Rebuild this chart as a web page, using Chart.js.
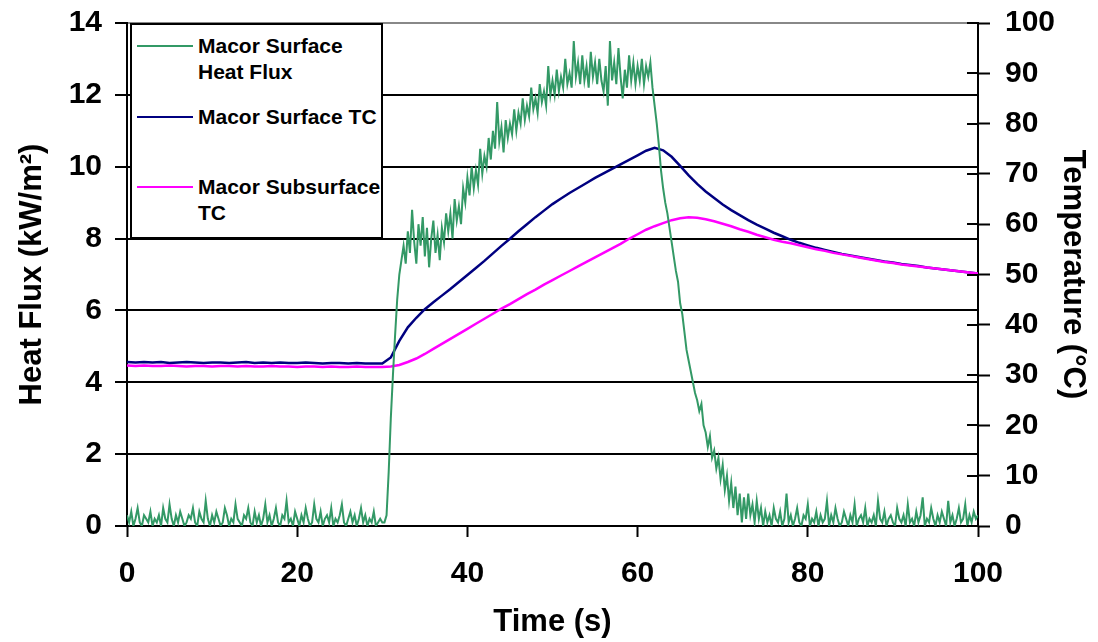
<!DOCTYPE html>
<html>
<head>
<meta charset="utf-8">
<script src="https://cdn.jsdelivr.net/npm/chart.js@4.4.1/dist/chart.umd.min.js"></script>
<style>
  body { margin: 0; background: #fff; }
  #wrap { position: relative; width: 1098px; height: 642px; }
  #legend {
    position: absolute; left: 130px; top: 23px; width: 249px; height: 212px;
    border: 2px solid #000; background: #fff;
    font: bold 21px 'Liberation Sans', Arial, sans-serif; color: #000;
  }
  .entry { position: absolute; left: 0; line-height: 26px; }
  .entry .swatch { position: absolute; left: 5px; top: 12px; width: 56px; height: 2px; }
  .entry .txt { position: absolute; left: 66px; top: 0; white-space: nowrap; }
</style>
</head>
<body>
<div id="wrap">
  <canvas id="chart" width="1098" height="642"></canvas>
  <div id="legend"></div>
</div>
<script>
// time axis ticks and sampling
var timeTicks = [0, 20, 40, 60, 80, 100];
var fluxStep = 0.25;  // s between heat flux samples
var tcStep = 1;       // s between thermocouple samples

// Macor surface heat flux, kW/m2, every 0.25 s from 0 to 100 s
var heatFlux = [
  // 0 .. 30
  0.3,0.1,0.4,0,0.2,0.5,0.1,0,0.3,0.2,
  0.1,0.4,0,0.2,0.1,0.3,0,0.5,0.2,0.1,
  0.6,0.2,0,0.3,0.1,0.4,0.2,0,0.1,0.3,
  0.2,0.5,0.1,0,0.4,0.2,0.1,0.7,0.2,0,
  0.3,0.1,0.4,0.2,0,0.1,0.5,0.3,0,0.2,
  0.1,0.6,0.2,0.1,0,0.3,0.2,0.5,0.1,0,
  0.4,0.1,0.3,0,0.2,0.6,0.1,0.3,0,0.2,
  0.5,0.1,0,0.3,0.2,0.7,0.1,0.2,0,0.4,
  0.2,0,0.3,0.1,0.5,0.2,0,0.1,0.6,0.2,
  0.1,0.4,0,0.2,0.3,0.1,0.5,0,0.2,0.1,
  0.3,0.6,0.1,0,0.2,0.4,0.1,0.3,0,0.2,
  0.5,0.1,0.3,0,0.2,0.1,0.4,0,0.1,0.2,
  0.1,
  // 30.25 .. 75
  0.1,0.3,1.5,3.0,4.2,5.3,6.3,7.0,7.4,7.8,
  7.3,8.2,7.6,8.8,7.9,7.3,8.4,7.8,8.6,7.5,
  8.3,7.2,8.0,8.5,7.6,8.1,7.4,8.3,7.9,8.7,
  8.2,8.7,8.0,9.1,8.5,8.9,8.4,9.4,9.0,9.7,
  9.2,10.0,9.4,9.9,9.5,10.5,9.8,10.3,10.0,10.8,
  10.2,11.0,10.5,11.8,10.7,11.1,10.4,11.3,10.8,11.2,
  10.9,11.6,11.0,11.5,11.2,11.9,11.3,11.7,11.4,12.2,
  11.6,11.9,11.5,12.3,11.8,12.1,11.7,12.8,12.0,12.4,
  12.0,12.7,12.1,12.5,12.2,13.0,12.3,12.6,12.2,13.5,
  12.5,12.9,12.3,13.1,12.4,12.8,12.2,13.2,12.5,12.9,
  12.3,13.0,12.4,12.1,12.8,11.7,13.5,12.4,12.9,12.3,
  13.3,12.5,11.9,12.7,12.2,13.1,12.4,12.9,12.3,12.8,
  12.4,13.0,12.3,12.8,12.5,12.9,12.2,11.7,11.2,10.6,
  9.9,9.4,9.0,8.7,8.3,7.9,7.5,7.1,6.8,6.2,
  5.9,5.4,4.9,4.6,4.3,4.0,3.7,3.5,3.2,3.4,
  2.8,2.6,2.2,2.5,1.9,2.1,1.6,1.9,1.3,1.7,
  1.0,1.4,0.7,1.2,0.5,1.1,0.3,0.9,0.1,0.8,
  0.2,0.9,0.3,0.6,0.1,0.7,0.2,0.5,0,0.4,
  // 75.25 .. 100
  0.1,0.3,0,0.5,0.2,0.1,0.4,0,0.2,0.9,
  0.1,0.3,0,0.2,0.5,0.1,0,0.3,0.2,0.6,
  0,0.2,0.1,0.4,0,0.3,0.1,0.2,0.7,0,
  0.3,0.1,0.5,0.2,0,0.1,0.4,0.2,0,0.3,
  0.1,0.6,0,0.2,0.3,0.1,0.5,0,0.2,0.1,
  0.3,0,0.7,0.2,0.1,0.4,0,0.2,0.3,0.1,
  0,0.5,0.2,0.1,0.3,0,0.6,0.1,0.2,0,
  0.4,0.1,0.3,0.8,0,0.2,0.1,0.5,0.2,0,
  0.3,0.1,0.4,0.2,0,0.7,0.1,0.3,0,0.2,
  0.5,0.1,0.2,0.6,0,0.3,0.1,0.4,0.2,0.3
];

// Macor surface thermocouple, deg C, every 1 s from 0 to 100 s
var surfaceTC = [
  32.6,32.5,32.6,32.5,32.6,32.4,32.5,32.6,32.5,32.4,
  32.5,32.5,32.4,32.5,32.6,32.4,32.5,32.4,32.5,32.4,
  32.4,32.5,32.4,32.3,32.4,32.4,32.3,32.4,32.3,32.3,
  32.3,33.5,36.8,39.5,41.4,43.1,44.5,45.8,47.1,48.5,
  49.9,51.3,52.7,54.2,55.7,57.1,58.6,60.0,61.4,62.7,
  64.0,65.1,66.2,67.2,68.2,69.2,70.1,71.0,71.9,72.8,
  73.7,74.6,75.2,74.7,73.4,71.6,69.7,68.0,66.5,65.2,
  63.9,62.8,61.8,60.8,59.9,59.1,58.3,57.6,56.9,56.3,
  55.8,55.3,54.9,54.5,54.1,53.8,53.5,53.2,52.9,52.6,
  52.4,52.1,51.9,51.7,51.4,51.2,51.0,50.8,50.6,50.4,
  50.2
];

// Macor subsurface thermocouple, deg C, every 1 s from 0 to 100 s
var subsurfaceTC = [
  31.9,31.8,31.9,31.8,31.8,31.9,31.8,31.7,31.8,31.8,
  31.7,31.8,31.8,31.7,31.8,31.7,31.7,31.8,31.7,31.7,
  31.6,31.7,31.7,31.6,31.7,31.6,31.6,31.7,31.6,31.6,
  31.6,31.7,32.0,32.6,33.3,34.2,35.2,36.2,37.2,38.2,
  39.2,40.2,41.2,42.2,43.2,44.1,45.1,46.1,47.0,48.0,
  48.9,49.8,50.7,51.6,52.5,53.4,54.3,55.2,56.1,57.1,
  58.0,58.9,59.6,60.2,60.8,61.2,61.4,61.3,61.0,60.6,
  60.1,59.6,59.0,58.5,57.9,57.4,56.9,56.5,56.2,55.8,
  55.4,55.0,54.7,54.3,54.0,53.7,53.4,53.1,52.8,52.5,
  52.3,52.0,51.8,51.6,51.4,51.2,51.0,50.8,50.6,50.4,
  50.2
];

var seriesLabels = [["Macor Surface", "Heat Flux"], ["Macor Surface TC"], ["Macor Subsurface", "TC"]];
var seriesColors = ["#339966", "#000080", "#FF00FF"];

function toPoints(values, step) {
  return values.map(function(v, i) { return { x: i * step, y: v }; });
}

var font = "'Liberation Sans', Arial, sans-serif";
Chart.defaults.font.family = font;
Chart.defaults.color = "#000";

// tick marks of the right axis cross into the plot area
var crossTicks = {
  id: "crossTicks",
  afterDraw: function(chart) {
    var ctx = chart.ctx;
    var s = chart.scales.y2;
    ctx.save();
    ctx.strokeStyle = "#000";
    ctx.lineWidth = 2;
    s.ticks.forEach(function(t) {
      var py = Math.round(s.getPixelForValue(t.value));
      ctx.beginPath();
      ctx.moveTo(s.left - 11, py);
      ctx.lineTo(s.left, py);
      ctx.stroke();
    });
    ctx.restore();
  }
};

// fixed axis boxes so the plot area sits where the original one does
function fitY(width) {
  return function(s) {
    s.width = width;
    s.paddingTop = 0;
    s.paddingBottom = 0;
  };
}

var chart = new Chart(document.getElementById("chart"), {
  type: "line",
  data: {
    datasets: [{
      label: seriesLabels[0].join(" "),
      data: toPoints(heatFlux, fluxStep),
      borderColor: seriesColors[0],
      borderWidth: 2,
      yAxisID: "y",
      order: 0
    }, {
      label: seriesLabels[1].join(" "),
      data: toPoints(surfaceTC, tcStep),
      borderColor: seriesColors[1],
      borderWidth: 2.5,
      yAxisID: "y2",
      order: 2
    }, {
      label: seriesLabels[2].join(" "),
      data: toPoints(subsurfaceTC, tcStep),
      borderColor: seriesColors[2],
      borderWidth: 2.5,
      yAxisID: "y2",
      order: 1
    }]
  },
  options: {
    responsive: false,
    animation: false,
    layout: { padding: { top: 23, left: 0, right: 0, bottom: 0 } },
    elements: { point: { radius: 0 }, line: { tension: 0 } },
    plugins: { legend: { display: false }, tooltip: { enabled: false } },
    scales: {
      x: {
        type: "linear",
        min: 0, max: 100,
        afterBuildTicks: function(s) { s.ticks = timeTicks.map(function(v) { return { value: v }; }); },
        afterFit: function(s) { s.height = 116; },
        grid: { drawOnChartArea: false, tickLength: 11, tickColor: "#000", tickWidth: 2 },
        border: { color: "#000", width: 2 },
        ticks: { font: { size: 30, weight: "bold" }, padding: 19, maxRotation: 0 },
        title: { display: true, text: "Time (s)", font: { size: 31, weight: "bold" }, padding: { top: 0, bottom: 1 } }
      },
      y: {
        position: "left",
        min: 0, max: 14,
        afterFit: fitY(127),
        grid: {
          color: function(c) { return c.tick && c.tick.value === 14 ? "#888" : "#000"; },
          lineWidth: 2, tickLength: 12, tickColor: "#000", tickWidth: 2
        },
        border: { color: "#000", width: 2 },
        ticks: { stepSize: 2, font: { size: 30, weight: "bold" }, padding: 13 },
        title: { display: true, text: "Heat Flux (kW/m²)", font: { size: 31, weight: "bold" }, padding: { top: 14, bottom: 0 } }
      },
      y2: {
        position: "right",
        min: 0, max: 100,
        afterFit: fitY(120),
        grid: { drawOnChartArea: false, tickLength: 12, tickColor: "#000", tickWidth: 2 },
        border: { color: "#000", width: 2 },
        ticks: { stepSize: 10, font: { size: 30, weight: "bold" }, padding: 15 },
        title: { display: true, text: "Temperature (°C)", font: { size: 31, weight: "bold" }, padding: { top: 7, bottom: 0 } }
      }
    }
  },
  plugins: [crossTicks]
});

// legend as real text over the plot's top-left corner
var legendTops = [8, 78.5, 148.5];
var legend = document.getElementById("legend");
seriesLabels.forEach(function(lines, i) {
  var e = document.createElement("div");
  e.className = "entry";
  e.style.top = legendTops[i] + "px";
  var sw = document.createElement("span");
  sw.className = "swatch";
  sw.style.background = seriesColors[i];
  var tx = document.createElement("div");
  tx.className = "txt";
  tx.innerHTML = lines.join("<br>");
  e.appendChild(sw);
  e.appendChild(tx);
  legend.appendChild(e);
});
</script>
</body>
</html>
